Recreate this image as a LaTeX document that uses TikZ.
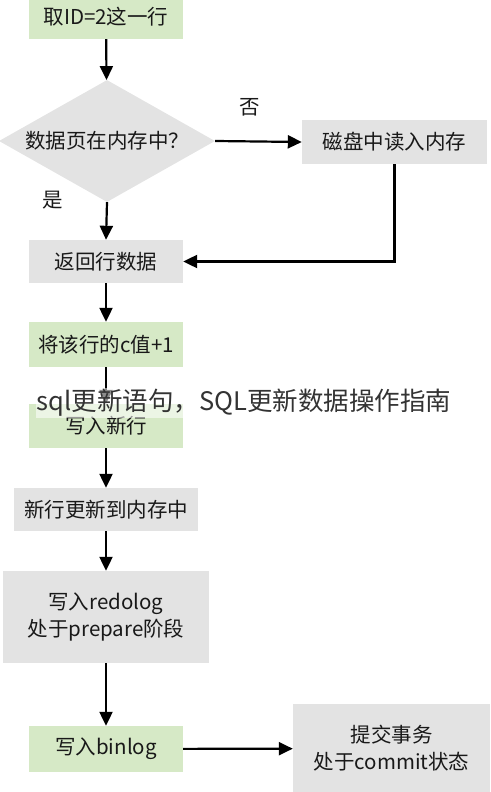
\documentclass[tikz,border=0pt]{standalone}
\usepackage{fontspec}
\setmainfont{Noto Sans CJK SC}
\usetikzlibrary{shapes.geometric,arrows.meta}
\definecolor{boxgreen}{RGB}{214,233,198}
\definecolor{boxgray}{RGB}{227,227,227}
\begin{document}
\begin{tikzpicture}[x=1pt,y=-1pt,
	every node/.style={font=\fontsize{20.5}{27}\selectfont,text=black!90},
	greenbox/.style={fill=boxgreen,minimum width=154pt,minimum height=44pt,align=center,inner sep=0pt},
	graybox/.style={fill=boxgray,align=center,inner sep=0pt},
	flow/.style={line width=2.2pt,-{Triangle[width=13pt,length=14pt]}}]
	\useasboundingbox (0,0) rectangle (490,792);
	\node[greenbox] (take) at (106,17) {取ID=2这一行};
	\node[diamond,fill=boxgray,aspect=1.77,minimum width=216pt,minimum height=122pt,inner sep=0pt] (dec) at (107,141) {数据页在内存中？};
	\node[graybox,minimum width=185pt,minimum height=44pt] (read) at (394.5,142) {磁盘中读入内存};
	\node[graybox,minimum width=154pt,minimum height=43pt] (ret) at (106,261.5) {返回行数据};
	\node[greenbox,minimum height=45pt] (inc) at (106,344.5) {将该行的c值+1};
	\node[greenbox] (wr) at (106,426) {写入新行};
	\node[graybox,minimum width=184pt,minimum height=43pt] (mem) at (106,509.5) {新行更新到内存中};
	\node[graybox,minimum width=206pt,minimum height=92pt] (redo) at (106,617) {写入redolog\\处于prepare阶段};
	\node[greenbox,minimum height=46pt] (bin) at (106,749) {写入binlog};
	\node[graybox,minimum width=197pt,minimum height=89pt] (commit) at (391.5,748.5) {提交事务\\处于commit状态};
	\node (no) at (250,107) {否};
	\node (yes) at (53,200) {是};
	\draw[flow] (take) -- (dec);
	\draw[flow] (dec.east) -- (read.west);
	\draw[flow] (dec.south) -- (ret.north);
	\draw[flow] (read.south) |- (ret.east);
	\draw[flow] (ret) -- (inc);
	\draw[flow] (inc) -- (wr);
	\draw[flow] (wr) -- (mem);
	\draw[flow] (mem) -- (redo);
	\draw[flow] (redo) -- (bin);
	\draw[flow] (bin) -- (commit);
%	watermark over the picture
	\node[fill=white,fill opacity=0.55,text opacity=1,inner sep=1pt,font=\fontsize{25.5}{25.5}\selectfont,text=black!80] (mark) at (244,403) {sql更新语句，SQL更新数据操作指南};
\end{tikzpicture}
\end{document}
